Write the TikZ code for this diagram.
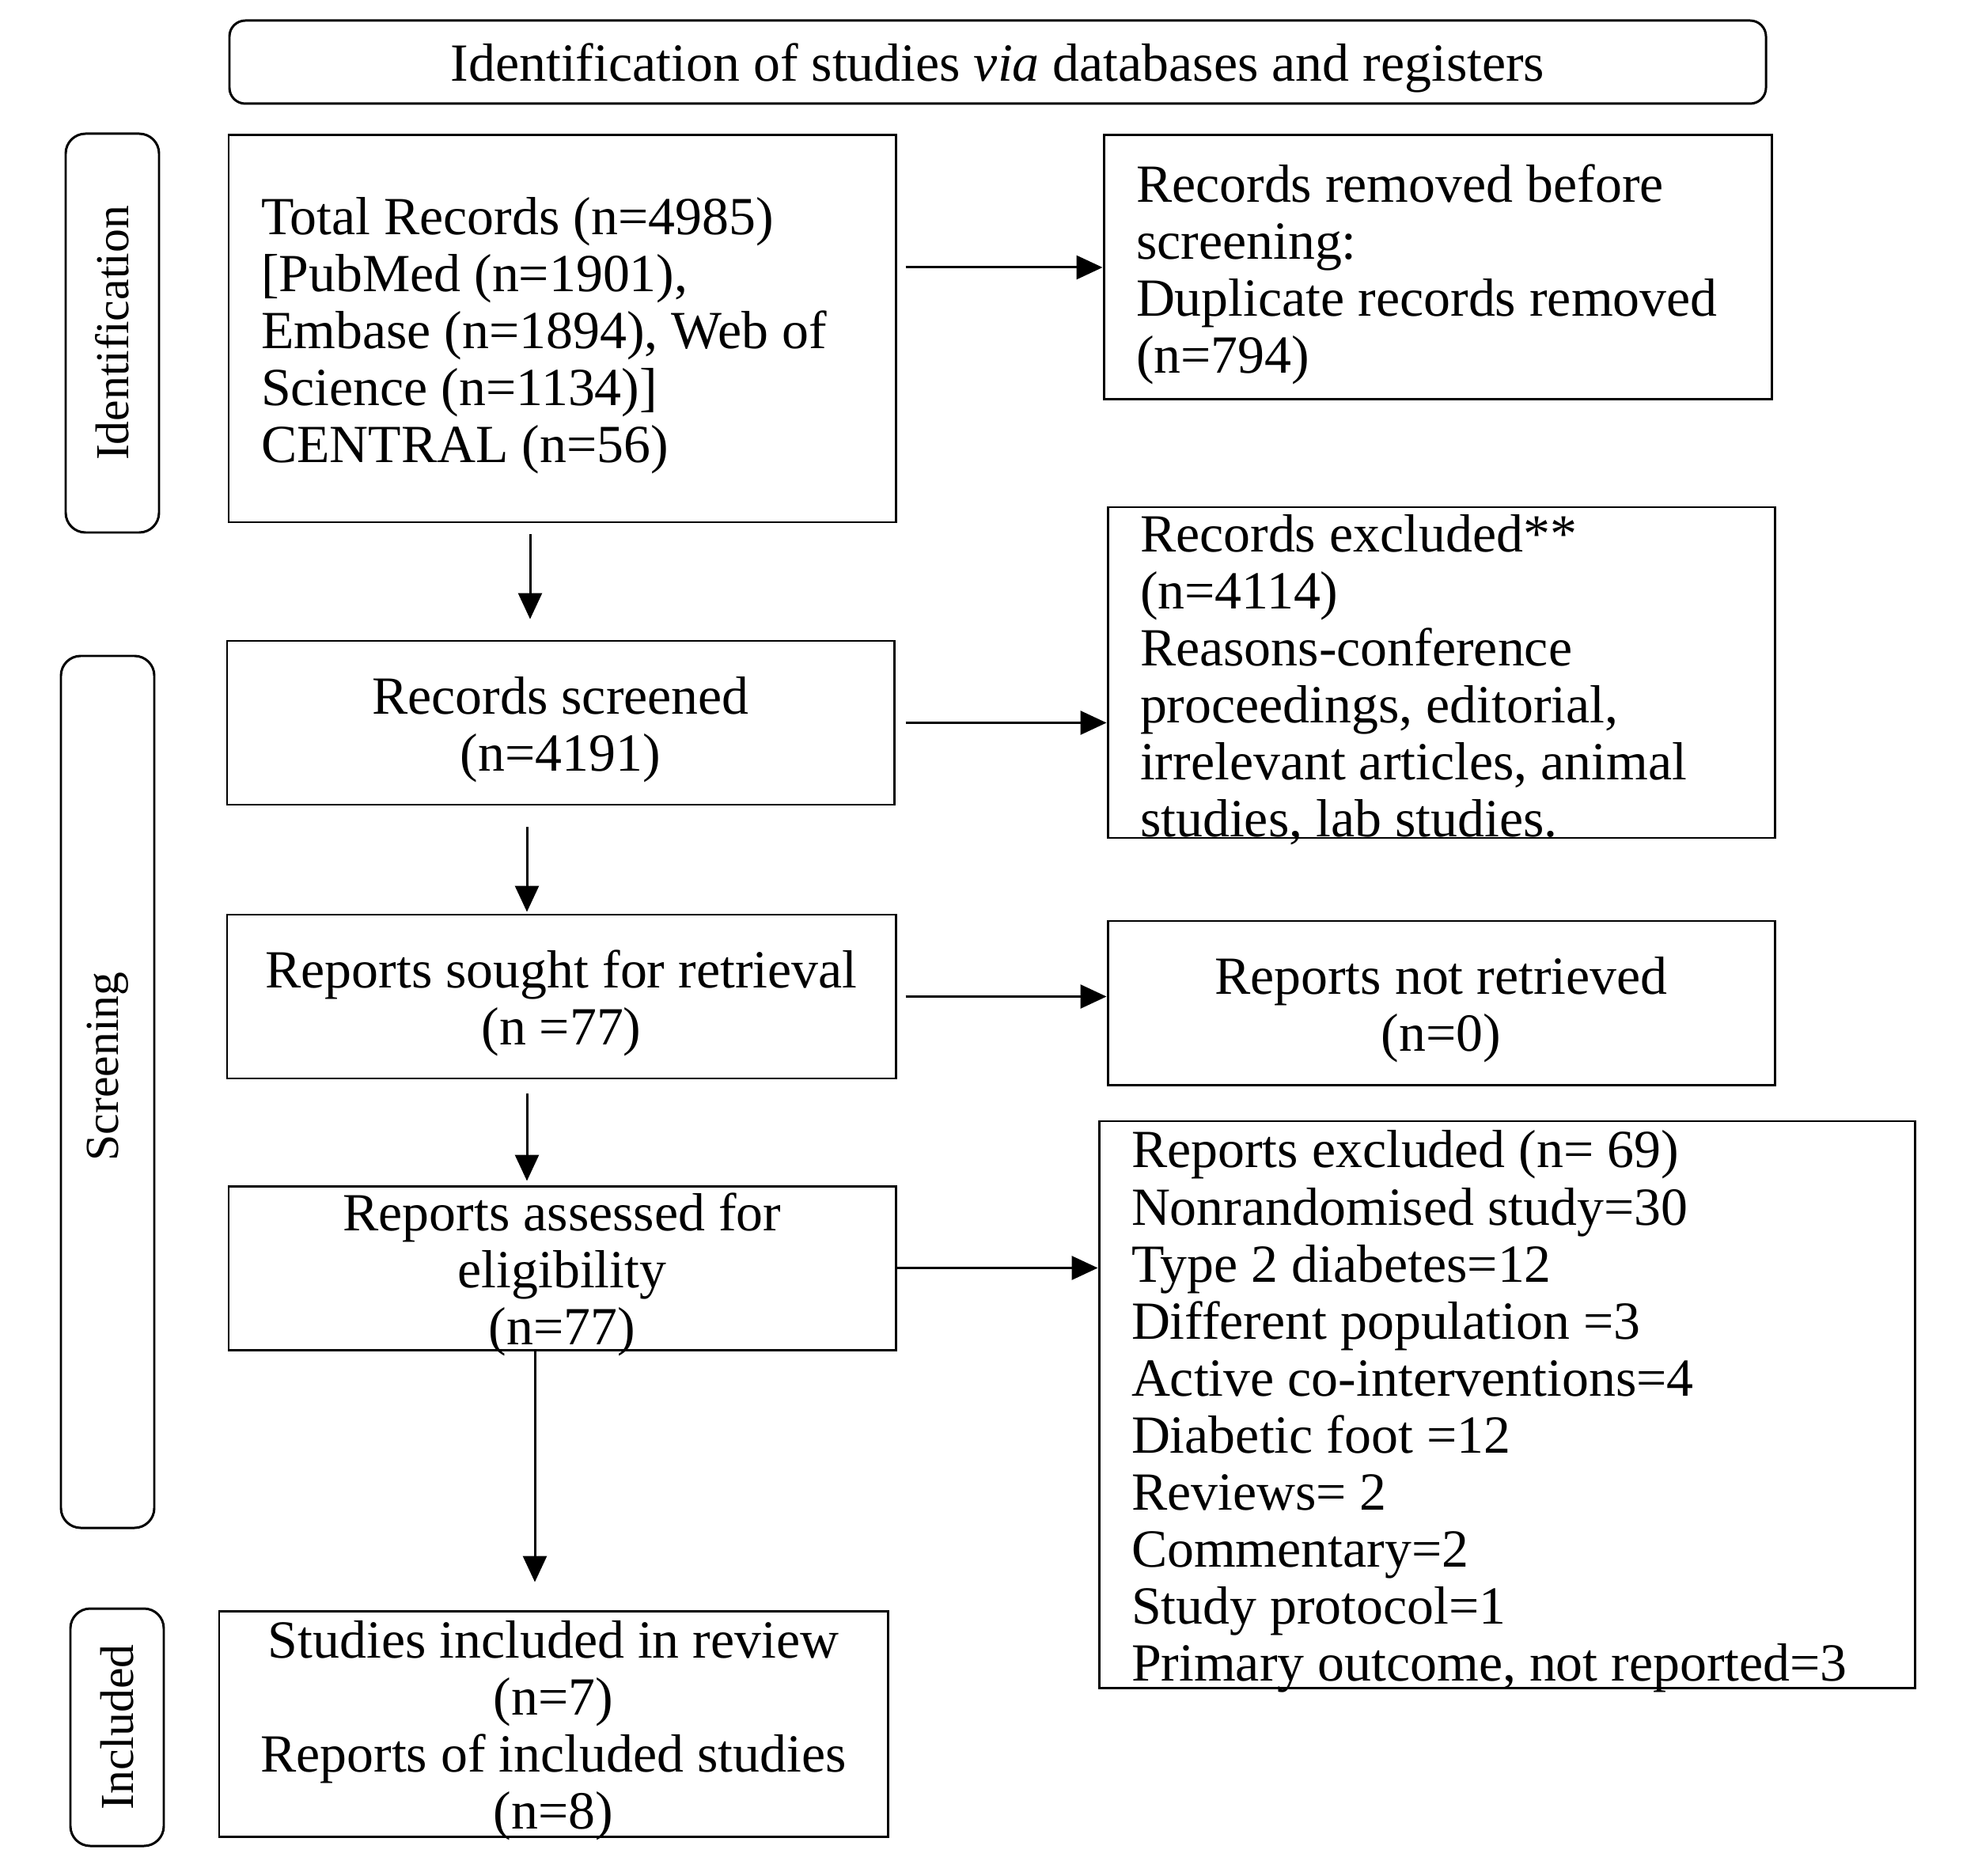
\documentclass[tikz,border=0pt]{standalone}
\usepackage{fontspec}
\setmainfont{Liberation Serif}
\usetikzlibrary{arrows.meta}

\begin{document}
\begin{tikzpicture}[
        font=\fontsize{19.3}{20.5}\selectfont,
        box/.style={draw, line width=0.85pt, align=flush center, inner xsep=0.23cm, inner ysep=-0.12cm, execute at begin node={\rule{0pt}{18.5pt}}},
        leftbox/.style={draw, line width=0.85pt, align=flush left, inner xsep=0.41cm, inner ysep=-0.12cm, execute at begin node={\rule{0pt}{18.5pt}}},
        phase/.style={draw, line width=0.85pt, rounded corners=0.25cm, rotate=90, minimum height=1.18cm, font=\fontsize{17}{20}\selectfont},
        flow/.style={-{Triangle[length=0.33cm, width=0.30cm]}, line width=0.85pt}
    ]
        \useasboundingbox (0,0) rectangle (25,-23.71);

        % Title
        \node[draw, line width=0.85pt, rounded corners=0.2cm, minimum width=19.42cm, minimum height=1.05cm] (title) at (12.61,-0.785) {\rule{0pt}{18pt}Identification of studies \textit{via} databases and registers};

        % Phase labels on the left
        \node[phase, minimum width=5.04cm] (ident) at (1.42,-4.21) {Identification};
        \node[phase, minimum width=11.02cm] (screen) at (1.36,-13.80) {\hspace*{0.64cm}Screening};
        \node[phase, minimum width=3.00cm] (incl) at (1.48,-21.83) {Included};

        % Main column
        \node[leftbox, text width=7.61cm, minimum height=4.89cm] (tot) at (7.105,-4.155) {Total Records (n=4985)\\{[}PubMed (n=1901),\\Embase (n=1894), Web of\\Science (n=1134)]\\CENTRAL (n=56)};
        \node[box, text width=7.97cm, minimum height=2.07cm] (screened) at (7.085,-9.135) {Records screened\\(n=4191)};
        \node[box, text width=7.99cm, minimum height=2.07cm] (sought) at (7.095,-12.595) {Reports sought for retrieval\\(n =77)};
        \node[box, text width=7.97cm, minimum height=2.07cm] (assessed) at (7.105,-16.025) {Reports assessed for\\eligibility\\(n=77)};
        \node[box, text width=7.99cm, minimum height=2.85cm] (included) at (6.995,-21.785) {Studies included in review\\(n=7)\\Reports of included studies\\(n=8)};

        % Right column
        \node[leftbox, text width=7.62cm, minimum height=3.34cm] (removed) at (18.17,-3.38) {Records removed before\\screening:\\Duplicate records removed\\(n=794)};
        \node[leftbox, text width=7.61cm, minimum height=4.18cm] (excluded) at (18.215,-8.50) {Records excluded**\\(n=4114)\\Reasons-conference\\proceedings, editorial,\\irrelevant articles, animal\\studies, lab studies.};
        \node[box, text width=7.97cm, minimum height=2.07cm] (notretr) at (18.215,-12.675) {Reports not retrieved\\(n=0)};
        \node[leftbox, text width=9.49cm, minimum height=7.16cm] (repexcl) at (19.045,-17.75) {Reports excluded (n= 69)\\Nonrandomised study=30\\Type 2 diabetes=12\\Different population =3\\Active co-interventions=4\\Diabetic foot =12\\Reviews= 2\\Commentary=2\\Study protocol=1\\Primary outcome, not reported=3};

        % Arrows down
        \draw[flow, shorten <=0.14cm, shorten >=0.26cm] ([xshift=-0.405cm]tot.south) -- ([xshift=-0.405cm]tot.south |- screened.north);
        \draw[flow, shorten <=0.27cm, shorten >=0.02cm] ([xshift=-0.425cm]screened.south) -- ([xshift=-0.425cm]screened.south |- sought.north);
        \draw[flow, shorten <=0.18cm, shorten >=0.05cm] ([xshift=-0.435cm]sought.south) -- ([xshift=-0.435cm]sought.south |- assessed.north);
        \draw[flow, shorten >=0.35cm] ([xshift=-0.345cm]assessed.south) -- ([xshift=-0.345cm]assessed.south |- included.north);

        % Arrows right
        \draw[flow, shorten <=0.11cm] (tot.east |- removed.west) -- (removed.west);
        \draw[flow, shorten <=0.13cm] (screened.east) -- (screened.east -| excluded.west);
        \draw[flow, shorten <=0.11cm] (sought.east) -- (sought.east -| notretr.west);
        \draw[flow] (assessed.east) -- (assessed.east -| repexcl.west);

    \end{tikzpicture}
\end{document}
